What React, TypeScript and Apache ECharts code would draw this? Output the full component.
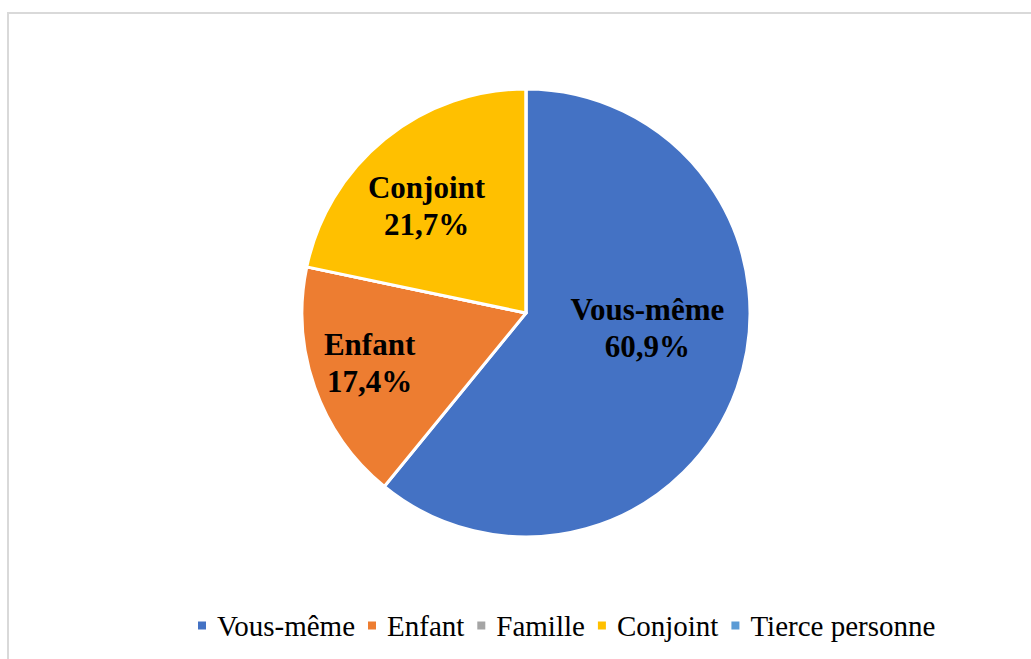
import React, { useEffect, useRef } from "react";
import * as echarts from "echarts";

const categories = ["Vous-même", "Enfant", "Famille", "Conjoint", "Tierce personne"];
const values = [60.9, 17.4, 0, 21.7, 0];
const colors = ["#4472C4", "#ED7D31", "#A5A5A5", "#FFC000", "#5B9BD5"];
const labelOffsets: Record<string, number[]> = {
  "Vous-même": [13, -24],
  Enfant: [-48, 12],
  Conjoint: [-27, -18],
};

const SERIF = "'Liberation Serif', 'Times New Roman', serif";

export default function App() {
  const ref = useRef<HTMLDivElement>(null);
  useEffect(() => {
    if (!ref.current) return;
    const chart = echarts.init(ref.current, undefined, { renderer: "svg" });
    const data = categories.map((name, i) => ({
      name,
      value: values[i],
      itemStyle: { color: colors[i] },
      label: {
        show: values[i] > 0,
        offset: labelOffsets[name] || [0, 0],
      },
    }));
    chart.setOption({
      animation: false,
      backgroundColor: "#ffffff",
      textStyle: { fontFamily: SERIF },
      graphic: [
        {
          type: "rect",
          shape: { x: 8, y: 13, width: 1100, height: 700 },
          style: { fill: "none", stroke: "#d9d9d9", lineWidth: 2 },
          silent: true,
        },
      ],
      legend: {
        left: 191,
        top: 606,
        itemWidth: 10,
        itemHeight: 10,
        itemGap: 11,
        icon: "rect",
        formatter: "{t|{name}}",
        textStyle: {
          fontFamily: SERIF,
          fontSize: 29,
          color: "#000000",
          rich: {
            t: {
              fontFamily: SERIF,
              fontSize: 29,
              color: "#000000",
              padding: [0, 0, 0, 5],
            },
          },
        },
        data: categories,
      },
      series: [
        {
          type: "pie",
          center: [526, 313],
          radius: [0, 224],
          startAngle: 90,
          clockwise: true,
          data,
          itemStyle: { borderColor: "#ffffff", borderWidth: 3 },
          label: {
            position: "inside",
            formatter: (p: any) =>
              `${p.name}\n${p.value.toFixed(1).replace(".", ",")}%`,
            fontFamily: SERIF,
            fontWeight: "bold",
            fontSize: 31,
            lineHeight: 37,
            color: "#000000",
          },
          labelLine: { show: false },
          emphasis: { disabled: true },
        },
      ],
    });
    return () => chart.dispose();
  }, []);
  return (
    <div
      ref={ref}
      style={{ position: "fixed", left: 0, top: 0, width: 1031, height: 659 }}
    />
  );
}
